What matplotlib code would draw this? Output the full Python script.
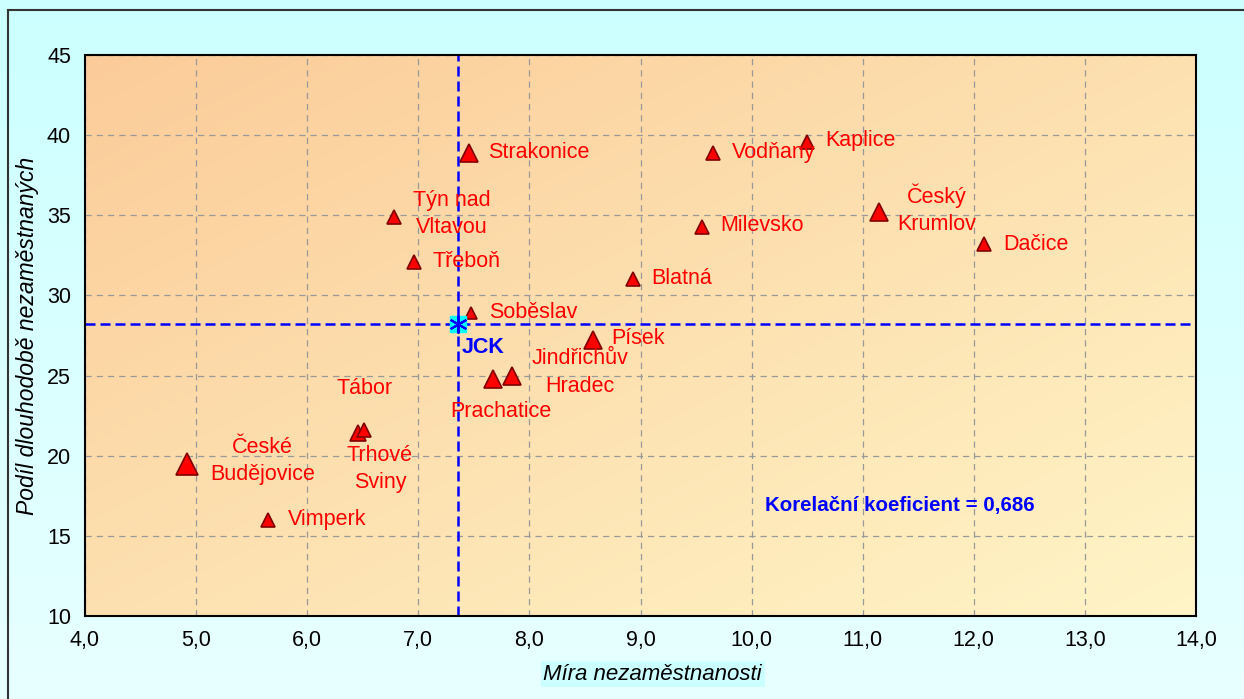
import matplotlib.pyplot as plt
import numpy as np
from matplotlib.patches import Rectangle
from matplotlib.ticker import FuncFormatter, MultipleLocator

plt.rcParams['font.family'] = ['Liberation Sans', 'DejaVu Sans']

# okresy / mesta: mira nezamestnanosti (x), podil dlouhodobe nezamestnanych (y)
names = ['České\nBudějovice', 'Vimperk', 'Tábor', 'Trhové\nSviny', 'Týn nad\nVltavou',
         'Třeboň', 'Strakonice', 'Soběslav', 'Prachatice', 'Jindřichův\nHradec',
         'Písek', 'Blatná', 'Milevsko', 'Vodňany', 'Kaplice', 'Český\nKrumlov', 'Dačice']
mira = [4.92, 5.65, 6.46, 6.51, 6.78, 6.96, 7.46, 7.47, 7.67, 7.84,
        8.57, 8.93, 9.55, 9.65, 10.50, 11.15, 12.09]
podil = [19.5, 16.0, 21.4, 21.6, 34.9, 32.1, 38.9, 28.9, 24.8, 25.0,
         27.2, 31.0, 34.3, 38.9, 39.6, 35.2, 33.2]
# relativni velikost znacky (bublina)
velikost = [16, 10, 11, 10.5, 10, 10, 13, 9, 13, 13, 13, 10, 10, 10, 10, 13, 10]

jck_x = 7.36
jck_y = 28.2
korelace = '0,686'

# posun popisku v pixelech (dx, dy) a zarovnani
offsets = {
    'České\nBudějovice': (75, 3, 'center'),
    'Vimperk': (20, 0, 'left'),
    'Tábor': (6, 45, 'center'),
    'Trhové\nSviny': (16, -39, 'center'),
    'Týn nad\nVltavou': (58, 3, 'center'),
    'Třeboň': (19, 0, 'left'),
    'Strakonice': (19, 0, 'left'),
    'Soběslav': (19, 1, 'left'),
    'Prachatice': (8, -33, 'center'),
    'Jindřichův\nHradec': (68, 3, 'center'),
    'Písek': (19, 2, 'left'),
    'Blatná': (19, 1, 'left'),
    'Milevsko': (19, 1, 'left'),
    'Vodňany': (19, 0, 'left'),
    'Kaplice': (18, 1, 'left'),
    'Český\nKrumlov': (57, 3, 'center'),
    'Dačice': (19, 0, 'left'),
}

fig = plt.figure(figsize=(12.44, 6.99), dpi=100)

# pozadi obrazku - svetle modry prechod
bg = fig.add_axes([0, 0, 1, 1], zorder=-10)
grad = np.linspace(0, 1, 256).reshape(-1, 1)
c_top = np.array([0.80, 1.0, 1.0])
c_bot = np.array([0.91, 1.0, 1.0])
img = c_top + grad[:, :, None] * (c_bot - c_top)
bg.imshow(img, aspect='auto', extent=[0, 1, 0, 1], origin='upper')
bg.set_axis_off()
fig.patches.append(Rectangle((8 / 1244, -0.05), 1.2, 1.05 - 10 / 699,
                             transform=fig.transFigure, fill=False,
                             edgecolor='#333333', linewidth=1.5))

ax = fig.add_axes([85 / 1244, 1 - 616 / 699, 1111 / 1244, 561 / 699])

# pozadi grafu - oranzovo-zluty diagonalni prechod
xx, yy = np.meshgrid(np.linspace(0, 1, 200), np.linspace(0, 1, 200))
t = (xx + (1 - yy)) / 2
c1 = np.array([0.985, 0.80, 0.60])
c2 = np.array([1.0, 0.96, 0.78])
pimg = c1 + t[:, :, None] * (c2 - c1)
ax.imshow(pimg, aspect='auto', extent=[0, 1, 0, 1], transform=ax.transAxes,
          origin='lower', zorder=0)

ax.set_xlim(4, 14)
ax.set_ylim(10, 45)
ax.xaxis.set_major_locator(MultipleLocator(1))
ax.yaxis.set_major_locator(MultipleLocator(5))
ax.xaxis.set_major_formatter(FuncFormatter(lambda v, p: f'{v:.1f}'.replace('.', ',')))
ax.tick_params(length=0, labelsize=15.5, pad=10)
ax.grid(True, color='#999999', linestyle=(0, (5, 4)), linewidth=0.9, zorder=1)
ax.set_axisbelow(False)
for s in ax.spines.values():
    s.set_linewidth(1.5)
    s.set_color('black')
    s.set_zorder(5)

ax.axvline(jck_x, color='#0000FF', linewidth=1.8, dashes=(4, 2), zorder=3)
ax.axhline(jck_y, color='#0000FF', linewidth=1.8, dashes=(4, 2), zorder=3)

for name, x, y, ms in zip(names, mira, podil, velikost):
    ax.plot(x, y, marker='^', ms=ms, mfc='#FF0000', mec='#800000', mew=1.2,
            linestyle='none', zorder=4)
    dx, dy, ha = offsets[name]
    ax.annotate(name, (x, y), xytext=(dx, dy), textcoords='offset pixels',
                ha=ha, va='center', fontsize=15.5, color='#FF0000',
                linespacing=1.4, zorder=6)

ax.plot(jck_x, jck_y, marker='s', ms=11, mfc='#00FFFF', mec='#00FFFF', zorder=4)
ax.plot(jck_x, jck_y, marker=(6, 2, 0), ms=13, mec='#0000FF', mew=1.5, zorder=5)
ax.annotate('JCK', (jck_x, jck_y), xytext=(3, -23), textcoords='offset pixels',
            ha='left', va='center', fontsize=15.5, fontweight='bold', color='#0000FF')

ax.text(10.12, 16.9, 'Korelační koeficient = ' + korelace, fontsize=14.8,
        fontweight='bold', color='#0000FF', va='center', ha='left', zorder=6)

ax.set_xlabel('Míra nezaměstnanosti', fontsize=16, style='italic', labelpad=9,
              bbox=dict(facecolor='#CCFFFF', edgecolor='none', pad=2))
ax.xaxis.set_label_coords(0.511, -0.085)
ax.set_ylabel('Podíl dlouhodobě nezaměstnaných', fontsize=16.5, style='italic')
ax.yaxis.set_label_coords(-0.041, 0.5)

plt.savefig('out.png', dpi=100)
